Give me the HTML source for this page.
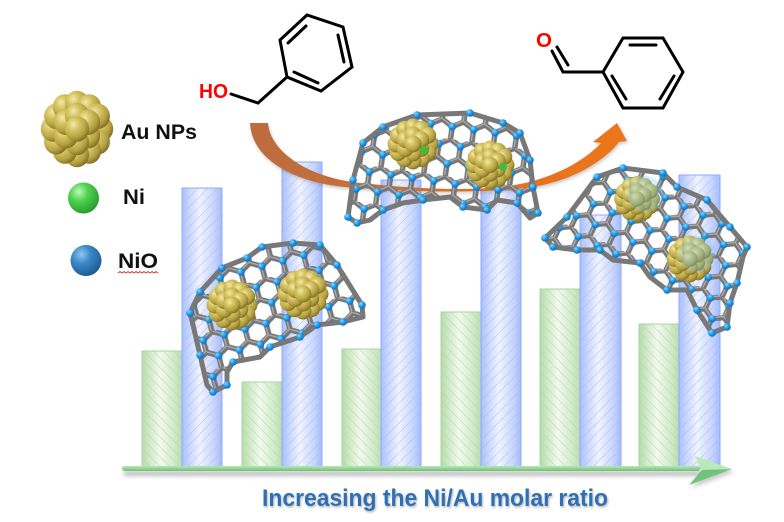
<!DOCTYPE html>
<html><head><meta charset="utf-8"><style>
html,body{margin:0;padding:0;background:#fff;}
svg{display:block;}
text{font-family:"Liberation Sans",sans-serif;}
</style></head><body>
<svg width="784" height="522" viewBox="0 0 784 522" xmlns="http://www.w3.org/2000/svg">
<defs>
<linearGradient id="gG" x1="0" y1="0" x2="1" y2="0">
<stop offset="0" stop-color="#b2dcac"/><stop offset="0.15" stop-color="#c8e8c2"/><stop offset="0.45" stop-color="#f0faee"/><stop offset="0.8" stop-color="#d0ecca"/><stop offset="1" stop-color="#b6dfb0"/>
</linearGradient>
<linearGradient id="gB" x1="0" y1="0" x2="1" y2="0">
<stop offset="0" stop-color="#a8c0ff"/><stop offset="0.15" stop-color="#c2d3ff"/><stop offset="0.45" stop-color="#f0f4ff"/><stop offset="0.8" stop-color="#c8d6ff"/><stop offset="1" stop-color="#a4bcfb"/>
</linearGradient>
<pattern id="hG" width="7" height="7" patternUnits="userSpaceOnUse" patternTransform="rotate(-45)"><line x1="0" y1="0" x2="0" y2="7" stroke="#d3c79e" stroke-width="0.9"/></pattern>
<pattern id="hB" width="7" height="7" patternUnits="userSpaceOnUse" patternTransform="rotate(45)"><line x1="0" y1="0" x2="0" y2="7" stroke="#b2b6ee" stroke-width="0.9"/></pattern>
<linearGradient id="axG" x1="0" y1="0" x2="0" y2="1"><stop offset="0" stop-color="#b4e8b4"/><stop offset="1" stop-color="#74bf78"/></linearGradient>
<linearGradient id="arcG" gradientUnits="userSpaceOnUse" x1="250" y1="0" x2="630" y2="0">
<stop offset="0" stop-color="#bd6c3e"/><stop offset="0.35" stop-color="#c6703a"/><stop offset="0.75" stop-color="#e6721e"/><stop offset="1" stop-color="#ee761a"/>
</linearGradient>
<radialGradient id="gold" cx="0.35" cy="0.32" r="0.7">
<stop offset="0" stop-color="#f2eaa8"/><stop offset="0.35" stop-color="#d6c464"/><stop offset="0.75" stop-color="#b4a040"/><stop offset="1" stop-color="#857328"/>
</radialGradient>
<radialGradient id="bd" cx="0.35" cy="0.32" r="0.7">
<stop offset="0" stop-color="#8fd8ff"/><stop offset="0.5" stop-color="#1f9ceb"/><stop offset="1" stop-color="#106cb8"/>
</radialGradient>
<radialGradient id="niG" cx="0.35" cy="0.3" r="0.75">
<stop offset="0" stop-color="#c0f7c0"/><stop offset="0.4" stop-color="#4fd34f"/><stop offset="1" stop-color="#289a2e"/>
</radialGradient>
<radialGradient id="nioG" cx="0.35" cy="0.3" r="0.75">
<stop offset="0" stop-color="#90c8f0"/><stop offset="0.4" stop-color="#3b88c8"/><stop offset="1" stop-color="#1d5893"/>
</radialGradient>
<pattern id="hx1" width="21.65" height="37.5" patternUnits="userSpaceOnUse" patternTransform="rotate(-15)">
<path d="M0,6.25 L10.825,0 L21.65,6.25 L21.65,18.75 L10.825,25 L0,18.75 Z M10.825,25 L10.825,37.5" fill="none" stroke="#767676" stroke-width="5.5"/>
<path d="M0,6.25 L10.825,0 L21.65,6.25 L21.65,18.75 L10.825,25 L0,18.75 Z M10.825,25 L10.825,37.5" fill="none" stroke="#ababab" stroke-width="1.4" transform="translate(-0.7,-0.9)"/>
<circle cx="10.825" cy="25" r="3.9" fill="url(#bd)"/><circle cx="0" cy="6.25" r="3.9" fill="url(#bd)"/><circle cx="21.65" cy="6.25" r="3.9" fill="url(#bd)"/>
</pattern>
<pattern id="hx2" width="21.65" height="37.5" patternUnits="userSpaceOnUse" patternTransform="rotate(8)">
<path d="M0,6.25 L10.825,0 L21.65,6.25 L21.65,18.75 L10.825,25 L0,18.75 Z M10.825,25 L10.825,37.5" fill="none" stroke="#767676" stroke-width="5.5"/>
<path d="M0,6.25 L10.825,0 L21.65,6.25 L21.65,18.75 L10.825,25 L0,18.75 Z M10.825,25 L10.825,37.5" fill="none" stroke="#ababab" stroke-width="1.4" transform="translate(-0.7,-0.9)"/>
<circle cx="10.825" cy="25" r="3.9" fill="url(#bd)"/><circle cx="0" cy="6.25" r="3.9" fill="url(#bd)"/><circle cx="21.65" cy="6.25" r="3.9" fill="url(#bd)"/>
</pattern>
<pattern id="hx3" width="20.8" height="36" patternUnits="userSpaceOnUse" patternTransform="rotate(25)">
<path d="M0,6 L10.4,0 L20.8,6 L20.8,18 L10.4,24 L0,18 Z M10.4,24 L10.4,36" fill="none" stroke="#767676" stroke-width="5.2"/>
<path d="M0,6 L10.4,0 L20.8,6 L20.8,18 L10.4,24 L0,18 Z M10.4,24 L10.4,36" fill="none" stroke="#ababab" stroke-width="1.4" transform="translate(-0.7,-0.9)"/>
<circle cx="10.4" cy="24" r="3.8" fill="url(#bd)"/><circle cx="0" cy="6" r="3.8" fill="url(#bd)"/><circle cx="20.8" cy="6" r="3.8" fill="url(#bd)"/>
</pattern>
<clipPath id="cp1"><polygon points="190,313 200,292 222,268 247,258 262,247 293,243 320,245 337,265 362,305 363,317 343,322 317,325 300,337 270,347 260,357 233,362 227,372 227,385 213,392 207,385 200,355 193,325"/></clipPath>
<clipPath id="cp2"><polygon points="348,217 353,180 363,143 383,127 417,115 470,113 503,123 520,133 530,160 533,187 538,213 530,218 517,203 497,200 487,210 463,207 450,197 423,200 403,203 383,210 370,220 357,223"/></clipPath>
<clipPath id="cp3"><polygon points="545,238 567,217 597,177 623,168 663,173 677,187 707,200 730,227 747,247 743,257 737,283 730,303 727,327 712,333 697,310 687,290 667,290 650,277 640,263 613,260 600,250 577,250 553,247"/></clipPath>
<g id="np">
<circle cx="17" cy="0" r="8.5" fill="url(#gold)"/><circle cx="14.7" cy="8.5" r="8.5" fill="url(#gold)"/><circle cx="8.5" cy="14.7" r="8.5" fill="url(#gold)"/><circle cx="0" cy="17" r="8.5" fill="url(#gold)"/><circle cx="-8.5" cy="14.7" r="8.5" fill="url(#gold)"/><circle cx="-14.7" cy="8.5" r="8.5" fill="url(#gold)"/><circle cx="-17" cy="0" r="8.5" fill="url(#gold)"/><circle cx="-14.7" cy="-8.5" r="8.5" fill="url(#gold)"/><circle cx="-8.5" cy="-14.7" r="8.5" fill="url(#gold)"/><circle cx="0" cy="-17" r="8.5" fill="url(#gold)"/><circle cx="8.5" cy="-14.7" r="8.5" fill="url(#gold)"/><circle cx="14.7" cy="-8.5" r="8.5" fill="url(#gold)"/>
<circle cx="7.8" cy="4.5" r="8.5" fill="url(#gold)"/><circle cx="0" cy="9" r="8.5" fill="url(#gold)"/><circle cx="-7.8" cy="4.5" r="8.5" fill="url(#gold)"/><circle cx="-7.8" cy="-4.5" r="8.5" fill="url(#gold)"/><circle cx="0" cy="-9" r="8.5" fill="url(#gold)"/><circle cx="7.8" cy="-4.5" r="8.5" fill="url(#gold)"/>
<circle cx="0" cy="0" r="8.5" fill="url(#gold)"/>
</g>
<filter id="blur2" x="-20%" y="-200%" width="140%" height="500%"><feGaussianBlur stdDeviation="2"/></filter>
<filter id="tsh" x="-5%" y="-30%" width="110%" height="160%"><feDropShadow dx="1" dy="1.5" stdDeviation="1" flood-color="#777" flood-opacity="0.55"/></filter>
<filter id="ash" x="-10%" y="-10%" width="120%" height="130%"><feDropShadow dx="1" dy="2" stdDeviation="1.5" flood-color="#666" flood-opacity="0.35"/></filter>
</defs>
<rect width="784" height="522" fill="#fff"/>

<!-- green bars -->
<g stroke="#a6d6a0" stroke-width="1">
<rect x="142" y="351" width="40" height="117" fill="url(#gG)"/>
<rect x="242" y="382" width="40" height="86" fill="url(#gG)"/>
<rect x="342" y="349" width="40" height="119" fill="url(#gG)"/>
<rect x="441" y="312" width="40" height="156" fill="url(#gG)"/>
<rect x="540" y="289" width="40" height="179" fill="url(#gG)"/>
<rect x="639" y="324" width="40" height="144" fill="url(#gG)"/>
</g>
<g fill="url(#hG)">
<rect x="142" y="351" width="40" height="117"/><rect x="242" y="382" width="40" height="86"/><rect x="342" y="349" width="40" height="119"/><rect x="441" y="312" width="40" height="156"/><rect x="540" y="289" width="40" height="179"/><rect x="639" y="324" width="40" height="144"/>
</g>
<!-- blue bars -->
<g stroke="#90a8ff" stroke-width="1">
<rect x="182" y="188" width="40" height="280" fill="url(#gB)"/>
<rect x="282" y="162" width="40" height="306" fill="url(#gB)"/>
<rect x="381" y="180" width="40" height="288" fill="url(#gB)"/>
<rect x="481" y="190" width="40" height="278" fill="url(#gB)"/>
<rect x="580" y="215" width="41" height="253" fill="url(#gB)"/>
<rect x="679" y="175" width="41" height="293" fill="url(#gB)"/>
</g>
<g fill="url(#hB)">
<rect x="182" y="188" width="40" height="280"/><rect x="282" y="162" width="40" height="306"/><rect x="381" y="180" width="40" height="288"/><rect x="481" y="190" width="40" height="278"/><rect x="580" y="215" width="41" height="253"/><rect x="679" y="175" width="41" height="293"/>
</g>

<!-- axis -->
<rect x="124" y="471" width="580" height="5" fill="#888" opacity="0.55" filter="url(#blur2)"/>
<rect x="122" y="466" width="578" height="5" rx="2.5" fill="url(#axG)"/>
<polygon points="734,472 697,459 704,473 691,488" fill="#888" opacity="0.45" filter="url(#blur2)"/>
<polygon points="732,469 695,456 702,470" fill="#b6ecba"/>
<polygon points="732,469 702,470 689,485" fill="#72c27c"/>

<!-- bottom label -->
<text x="262" y="506" font-size="24" font-weight="bold" fill="#2f6fb6" textLength="346" lengthAdjust="spacingAndGlyphs" filter="url(#tsh)">Increasing the Ni/Au molar ratio</text>

<!-- orange arc -->
<path d="M250,123 L268,123 C270,150 305,177 360,183 C400,187 430,189 460,189 C490,189 515,186 533,181 C565,172 588,157 601,143 L593,142 L617,123 L627,141 L619,142 C605,160 575,180 533,187 C500,191.5 470,191.5 440,191.5 C410,191 385,190 360,188 C300,186 252,162 250,123 Z" fill="url(#arcG)" filter="url(#ash)"/>

<!-- cluster 1 -->
<g clip-path="url(#cp1)"><rect x="180" y="230" width="200" height="175" fill="url(#hx1)"/></g>
<polygon points="190,313 200,292 222,268 247,258 262,247 293,243 320,245 337,265 362,305 363,317 343,322 317,325 300,337 270,347 260,357 233,362 227,372 227,385 213,392 207,385 200,355 193,325" fill="none" stroke="#787878" stroke-width="5" stroke-linejoin="round"/>
<g fill="url(#bd)">
<circle cx="190" cy="313" r="3.8"/><circle cx="200" cy="292" r="3.8"/><circle cx="222" cy="268" r="3.8"/><circle cx="247" cy="258" r="3.8"/><circle cx="262" cy="247" r="3.8"/><circle cx="293" cy="243" r="3.8"/><circle cx="320" cy="245" r="3.8"/><circle cx="337" cy="265" r="3.8"/><circle cx="362" cy="305" r="3.8"/><circle cx="343" cy="322" r="3.8"/><circle cx="317" cy="325" r="3.8"/><circle cx="300" cy="337" r="3.8"/><circle cx="270" cy="347" r="3.8"/><circle cx="233" cy="362" r="3.8"/><circle cx="227" cy="385" r="3.8"/><circle cx="213" cy="392" r="3.8"/><circle cx="200" cy="355" r="3.8"/>
</g>
<use href="#np" transform="translate(232,305)"/>
<use href="#np" transform="translate(303,294)"/>

<!-- cluster 2 -->
<g clip-path="url(#cp2)"><rect x="340" y="105" width="210" height="125" fill="url(#hx2)"/></g>
<polygon points="348,217 353,180 363,143 383,127 417,115 470,113 503,123 520,133 530,160 533,187 538,213 530,218 517,203 497,200 487,210 463,207 450,197 423,200 403,203 383,210 370,220 357,223" fill="none" stroke="#787878" stroke-width="5" stroke-linejoin="round"/>
<g fill="url(#bd)">
<circle cx="348" cy="217" r="3.8"/><circle cx="353" cy="180" r="3.8"/><circle cx="363" cy="143" r="3.8"/><circle cx="383" cy="127" r="3.8"/><circle cx="417" cy="115" r="3.8"/><circle cx="470" cy="113" r="3.8"/><circle cx="503" cy="123" r="3.8"/><circle cx="520" cy="133" r="3.8"/><circle cx="530" cy="160" r="3.8"/><circle cx="533" cy="187" r="3.8"/><circle cx="538" cy="213" r="3.8"/><circle cx="517" cy="203" r="3.8"/><circle cx="487" cy="210" r="3.8"/><circle cx="463" cy="207" r="3.8"/><circle cx="423" cy="200" r="3.8"/><circle cx="383" cy="210" r="3.8"/><circle cx="357" cy="223" r="3.8"/>
</g>
<use href="#np" transform="translate(413,144)"/>
<use href="#np" transform="translate(490,165) scale(0.96)"/>
<circle cx="424" cy="150" r="4" fill="#3cbf3c"/>
<circle cx="503" cy="167" r="4" fill="#3cbf3c"/>

<!-- cluster 3 -->
<g clip-path="url(#cp3)"><rect x="540" y="160" width="215" height="180" fill="url(#hx3)"/></g>
<polygon points="545,238 567,217 597,177 623,168 663,173 677,187 707,200 730,227 747,247 743,257 737,283 730,303 727,327 712,333 697,310 687,290 667,290 650,277 640,263 613,260 600,250 577,250 553,247" fill="none" stroke="#787878" stroke-width="5" stroke-linejoin="round"/>
<g fill="url(#bd)">
<circle cx="545" cy="238" r="3.8"/><circle cx="567" cy="217" r="3.8"/><circle cx="597" cy="177" r="3.8"/><circle cx="623" cy="168" r="3.8"/><circle cx="663" cy="173" r="3.8"/><circle cx="677" cy="187" r="3.8"/><circle cx="707" cy="200" r="3.8"/><circle cx="730" cy="227" r="3.8"/><circle cx="747" cy="247" r="3.8"/><circle cx="737" cy="283" r="3.8"/><circle cx="730" cy="303" r="3.8"/><circle cx="727" cy="327" r="3.8"/><circle cx="712" cy="333" r="3.8"/><circle cx="697" cy="310" r="3.8"/><circle cx="667" cy="290" r="3.8"/><circle cx="640" cy="263" r="3.8"/><circle cx="600" cy="250" r="3.8"/><circle cx="577" cy="250" r="3.8"/><circle cx="553" cy="247" r="3.8"/>
</g>
<use href="#np" transform="translate(637,199) scale(0.9)"/>
<use href="#np" transform="translate(690,259) scale(0.92)"/>
<circle cx="645" cy="194" r="18" fill="#6cc8f5" opacity="0.3"/>
<circle cx="697" cy="254" r="18" fill="#6cc8f5" opacity="0.3"/>

<!-- legend -->
<use href="#np" transform="translate(77,129) scale(1.42,1.5)"/>
<text x="121" y="139" font-size="21" font-weight="bold" fill="#111" textLength="76" lengthAdjust="spacingAndGlyphs">Au NPs</text>
<circle cx="83.5" cy="198" r="15.5" fill="url(#niG)"/>
<text x="123" y="204" font-size="21" font-weight="bold" fill="#111" textLength="22" lengthAdjust="spacingAndGlyphs">Ni</text>
<circle cx="86" cy="260.5" r="15.5" fill="url(#nioG)"/>
<text x="118" y="268" font-size="21" font-weight="bold" fill="#111" textLength="40" lengthAdjust="spacingAndGlyphs">NiO</text>
<polyline points="118,273 120,271.5 122,273 124,271.5 126,273 128,271.5 130,273 132,271.5 134,273 136,271.5 138,273 140,271.5 142,273 144,271.5 146,273 148,271.5 150,273 152,271.5 154,273 156,271.5 158,273" fill="none" stroke="#e02020" stroke-width="0.8"/>

<!-- benzyl alcohol -->
<g stroke="#000" stroke-width="3" fill="none" stroke-linecap="round" stroke-linejoin="miter">
<polygon points="287,77 280,40 307,15 343,27 352,67 321,91"/>
<line x1="288" y1="43" x2="306" y2="26"/>
<line x1="338" y1="35" x2="344" y2="62"/>
<line x1="294" y1="72" x2="318" y2="83"/>
<polyline points="231,94 258,103 287,77"/>
</g>
<text x="199" y="98" font-size="20" font-weight="bold" fill="#ff0000" textLength="29" lengthAdjust="spacingAndGlyphs">HO</text>

<!-- benzaldehyde -->
<g stroke="#000" stroke-width="3" fill="none" stroke-linecap="round" stroke-linejoin="miter">
<polygon points="603,72 623,38 663,38 683,72 663,108 623,108"/>
<line x1="630" y1="45" x2="656" y2="45"/>
<line x1="612" y1="76" x2="626" y2="99"/>
<line x1="674" y1="76" x2="660" y2="99"/>
<polyline points="552,51 563,72 603,72"/>
<line x1="557" y1="47" x2="568" y2="65"/>
</g>
<text x="536" y="47" font-size="20" font-weight="bold" fill="#ff0000" textLength="16" lengthAdjust="spacingAndGlyphs">O</text>
</svg>
</body></html>
